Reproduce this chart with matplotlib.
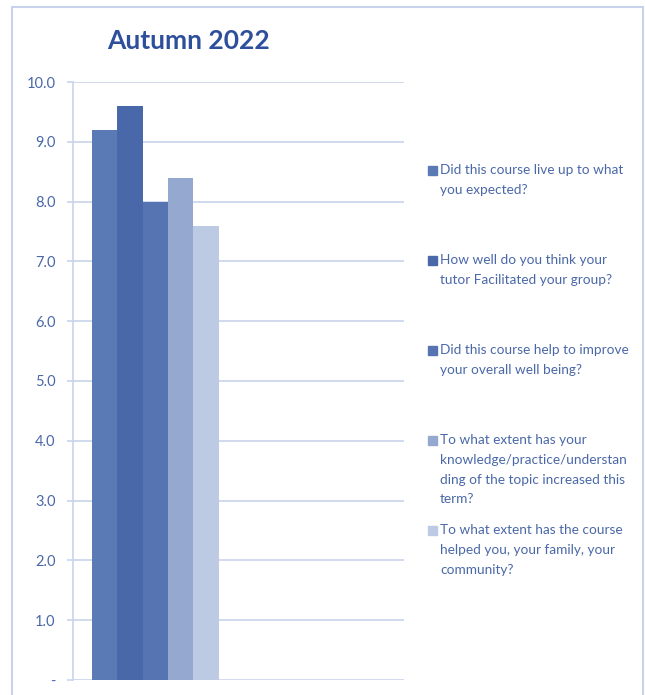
import matplotlib
matplotlib.use("Agg")
import matplotlib.pyplot as plt
from matplotlib.patches import Rectangle

title = "Autumn 2022"
labels = [
    "Did this course live up to what\nyou expected?",
    "How well do you think your\ntutor Facilitated your group?",
    "Did this course help to improve\nyour overall well being?",
    "To what extent has your\nknowledge/practice/understan\nding of the topic increased this\nterm?",
    "To what extent has the course\nhelped you, your family, your\ncommunity?",
]
values = [9.2, 9.6, 8.0, 8.4, 7.6]
colors = ["#5a7ab6", "#4868aa", "#5574b1", "#95a9d0", "#bccae3"]
yticks = [0, 1, 2, 3, 4, 5, 6, 7, 8, 9, 10]
yticklabels = ["-", "1.0", "2.0", "3.0", "4.0", "5.0", "6.0", "7.0", "8.0", "9.0", "10.0"]

plt.rcParams['font.family'] = ['Lato', 'DejaVu Sans']

W, H = 645, 695
fig = plt.figure(figsize=(W/100, H/100), dpi=100)

def fx(px): return px / W
def fy(py): return 1 - py / H

# outer frame
fig.patches.append(Rectangle((fx(12), -0.05), fx(643) - fx(12), fy(7) + 0.05,
                             transform=fig.transFigure, fill=False,
                             edgecolor="#c8d2ea", linewidth=1.5))

ax = fig.add_axes([fx(73), fy(680), fx(404) - fx(73), fy(82) - fy(680)])
grid_c = "#c9d3ea"
xs = list(range(len(values)))
ax.bar(xs, values, width=1.0, color=colors, edgecolor="none", zorder=2)
ax.set_xlim(-1.25, 11.83)
ax.set_ylim(0, 10)
ax.set_yticks(yticks)
ax.set_yticklabels(yticklabels, color="#4a68a8", fontsize=10.5)
ax.set_xticks([])
ax.tick_params(axis='y', length=4.5, width=1.2, color=grid_c, pad=8)
ax.yaxis.grid(True, color=grid_c, linewidth=1.2, zorder=0)
ax.set_axisbelow(True)
for s in ["top", "right", "bottom"]:
    ax.spines[s].set_visible(False)
ax.spines["left"].set_color(grid_c)
ax.spines["left"].set_linewidth(1.2)

fig.text(fx(189), fy(41), title, ha="center", va="center", fontsize=19,
         fontweight="bold", color="#2d4f9c")

# legend
ly = [170, 260, 350, 440, 530]
for lab, c, y in zip(labels, colors, ly):
    fig.patches.append(Rectangle((fx(428), fy(y + 5)), fx(9), 9 / H,
                                 transform=fig.transFigure, color=c))
    fig.text(fx(440), fy(y - 6), lab, ha="left", va="top", fontsize=9.8,
             color="#4a68a8", linespacing=1.78)

fig.savefig("out.png", dpi=100)
